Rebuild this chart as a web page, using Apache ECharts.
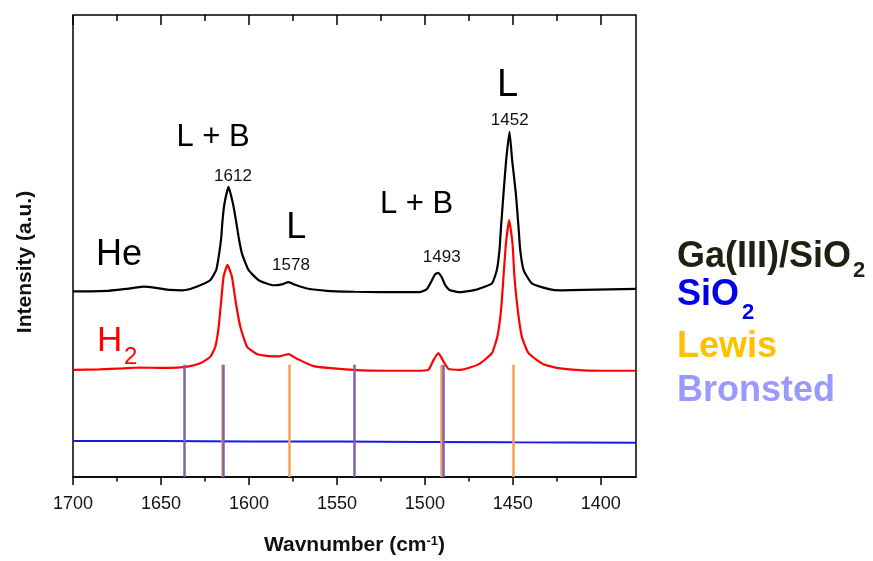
<!DOCTYPE html>
<html>

<head>
  <meta charset="utf-8">
  <title>Pyridine IR spectra</title>
  <script src="https://cdn.jsdelivr.net/npm/echarts@6/dist/echarts.min.js"></script>
  <style>
    html, body {
      margin: 0;
      padding: 0;
      background: #fff;
    }

    #chart {
      width: 873px;
      height: 561px;
    }
  </style>
</head>

<body>
  <div id="chart"></div>
</body>
<script>
  // tick labels of the wavenumber axis
  const majorTicks = [1700, 1650, 1600, 1550, 1500, 1450, 1400]
  const minorTicks = [1675, 1625, 1575, 1525, 1475, 1425]

  // Ga(III)/SiO2 under He (black)
  const heWn = [1700, 1690, 1680, 1670, 1660, 1652, 1645, 1638, 1633.4, 1627.7, 1622.0, 1618.6, 1616.9, 1615.7, 1615.0, 1613.9, 1611.6, 1609.1, 1607.4, 1605.9, 1604.0, 1600.2, 1594.5, 1586.0, 1581.3, 1577.5, 1573.7, 1567.0, 1555.7, 1540, 1525, 1510, 1503, 1499, 1496.5, 1494.3, 1492.5, 1490.5, 1488.5, 1486, 1480, 1474.3, 1470.5, 1461.9, 1459.1, 1457.6, 1456.7, 1455.3, 1453.8, 1451.9, 1450.4, 1448.3, 1446.8, 1445.8, 1443.9, 1439.2, 1428.8, 1423.1, 1410, 1395, 1380]
  const heVal = [40.2, 40.2, 40.3, 40.7, 41.2, 40.9, 40.5, 40.4, 40.7, 41.5, 42.6, 44.8, 48.4, 52.0, 55.6, 59.2, 62.8, 59.2, 55.6, 52.0, 48.4, 44.8, 42.6, 41.5, 41.7, 42.2, 41.6, 40.8, 40.3, 40.1, 40.0, 40.0, 40.0, 40.6, 42.2, 43.8, 44.2, 43.3, 41.6, 40.5, 40.0, 40.3, 40.6, 41.9, 44.8, 49.1, 54.2, 61.4, 68.6, 74.7, 68.6, 61.4, 54.2, 49.1, 44.8, 41.9, 40.6, 40.4, 40.5, 40.6, 40.7]

  // Ga(III)/SiO2 under H2 (red)
  const h2Wn = [1700, 1685, 1672, 1662.7, 1650, 1637.2, 1633.4, 1627.7, 1622.0, 1619.1, 1617.2, 1615.9, 1614.4, 1612.2, 1609.7, 1607.4, 1604.9, 1601.1, 1595.5, 1590, 1583, 1577.5, 1572.7, 1563.3, 1540.6, 1520, 1505, 1498, 1495.1, 1492.3, 1489.4, 1486.6, 1480, 1474.3, 1468.6, 1461.9, 1458.8, 1456.7, 1455.3, 1453.9, 1452.1, 1450.2, 1449.1, 1447.2, 1444.9, 1441.1, 1432.6, 1423.1, 1410, 1395, 1380]
  const h2Val = [23.2, 23.3, 23.5, 23.7, 23.6, 23.8, 24.0, 24.6, 26.0, 28.2, 32.5, 37.6, 43.4, 45.9, 43.4, 37.6, 32.5, 28.2, 26.6, 26.2, 26.1, 26.6, 25.6, 24.0, 23.2, 23.0, 23.0, 23.2, 25.3, 26.8, 25.0, 23.4, 23.2, 23.7, 24.6, 26.8, 30.4, 36.1, 43.4, 50.6, 55.6, 50.6, 43.4, 36.1, 30.4, 26.8, 24.4, 23.5, 23.1, 23.0, 23.0]

  // bare SiO2 (blue)
  const sioWn = [1700, 1650, 1600, 1550, 1500, 1450, 1380]
  const sioVal = [7.8, 7.8, 7.7, 7.7, 7.6, 7.5, 7.4]

  // reference band positions
  const lewisWn = [1615.3, 1577, 1490.5, 1449.8]
  const bronstedWn = [1636.8, 1614.4, 1540, 1489.3]
  const bandTop = 24.3

  const chart = echarts.init(document.getElementById('chart'))

  const pairs = (xs, ys) => xs.map((x, i) => [x, ys[i]])
  const bands = (xs) => xs.map(x => [{ coord: [x, 0] }, { coord: [x, bandTop] }])

  const font = 'Liberation Sans, Arial, sans-serif'
  const txt = (text, x, y, size, opts = {}) => ({
    type: 'text',
    x, y,
    style: Object.assign({
      text,
      fontSize: size,
      fontFamily: font,
      fill: '#000',
      align: 'center',
      verticalAlign: 'middle',
    }, opts),
  })
  const left = { align: 'left' }
  const bold = (fill) => ({ align: 'left', fontWeight: 'bold', fill })

  const baseX = {
    type: 'value',
    min: 1380,
    max: 1700,
    inverse: true,
    splitLine: { show: false },
    axisLine: { show: false, onZero: false },
    axisLabel: { show: false },
  }

  const option = {
    backgroundColor: '#fff',
    animation: false,
    grid: {
      left: 73,
      right: 237,
      top: 15,
      bottom: 84,
      show: true,
      borderColor: '#000',
      borderWidth: 1.5,
      backgroundColor: 'transparent',
    },
    xAxis: [
      Object.assign({}, baseX, {
        position: 'bottom',
        axisLine: { show: true, onZero: false, lineStyle: { color: '#000', width: 1.5 } },
        axisTick: { show: true, length: 8, customValues: majorTicks, lineStyle: { color: '#000', width: 1.5 } },
        axisLabel: {
          show: true, customValues: majorTicks, margin: 18,
          fontSize: 18, fontFamily: font, color: '#111',
          formatter: (v) => String(v),
        },
        name: '{n|Wavnumber (cm}{s|-1}{n|)}',
        nameLocation: 'middle',
        nameGap: 58,
        nameTextStyle: {
          rich: {
            n: { fontSize: 21, fontWeight: 'bold', fontFamily: font, color: '#111' },
            s: { fontSize: 13, fontWeight: 'bold', fontFamily: font, color: '#111', verticalAlign: 'top' },
          },
        },
      }),
      Object.assign({}, baseX, {
        position: 'bottom',
        axisTick: { show: true, length: 4.5, customValues: minorTicks, lineStyle: { color: '#000', width: 1.5 } },
      }),
      Object.assign({}, baseX, {
        position: 'top',
        axisTick: { show: true, inside: true, length: 10, customValues: majorTicks, lineStyle: { color: '#000', width: 1.5 } },
      }),
      Object.assign({}, baseX, {
        position: 'top',
        axisTick: { show: true, inside: true, length: 6, customValues: minorTicks, lineStyle: { color: '#000', width: 1.5 } },
      }),
    ],
    yAxis: {
      type: 'value',
      min: 0,
      max: 100,
      axisLine: { show: false },
      axisTick: { show: false },
      axisLabel: { show: false },
      splitLine: { show: false },
    },
    series: [
      {
        name: 'Lewis',
        type: 'line',
        data: [],
        z: 1,
        markLine: {
          silent: true,
          symbol: 'none',
          label: { show: false },
          lineStyle: { color: '#f4a05a', width: 2.5, type: 'solid' },
          data: bands(lewisWn),
        },
      },
      {
        name: 'Bronsted',
        type: 'line',
        data: [],
        z: 1,
        markLine: {
          silent: true,
          symbol: 'none',
          label: { show: false },
          lineStyle: { color: '#7e62ae', width: 2.5, type: 'solid' },
          data: bands(bronstedWn),
        },
      },
      {
        name: 'SiO2',
        type: 'line',
        data: pairs(sioWn, sioVal),
        showSymbol: false,
        lineStyle: { color: '#1a1ae6', width: 2 },
        z: 3,
      },
      {
        name: 'H2',
        type: 'line',
        data: pairs(h2Wn, h2Val),
        smooth: 0.15,
        showSymbol: false,
        lineStyle: { color: '#ff0000', width: 2.2 },
        z: 3,
      },
      {
        name: 'He',
        type: 'line',
        data: pairs(heWn, heVal),
        smooth: 0.15,
        showSymbol: false,
        lineStyle: { color: '#000', width: 2.2 },
        z: 3,
      },
    ],
    graphic: [
      txt('Intensity (a.u.)', 25, 262, 21, { fontWeight: 'bold', fill: '#111' }),
      txt('L + B', 213, 137, 31),
      txt('1612', 233, 176.5, 17, { fill: '#111' }),
      txt('He', 96, 255, 36, left),
      txt('L', 296.3, 228.3, 36),
      txt('1578', 291, 265.5, 17, { fill: '#111' }),
      txt('L + B', 416.5, 204, 31),
      txt('1493', 441.7, 257.8, 17, { fill: '#111' }),
      txt('L', 507.5, 86, 38),
      txt('1452', 509.7, 120, 17, { fill: '#111' }),
      txt('H', 97, 341.5, 35, { align: 'left', fill: '#ff0000' }),
      txt('2', 124, 357, 24, { align: 'left', fill: '#ff0000' }),
      txt('Ga(III)/SiO', 677, 257, 36, bold('#211f10')),
      txt('2', 853, 271, 22, bold('#211f10')),
      txt('SiO', 677, 295, 36, bold('#0000ee')),
      txt('2', 742, 313, 22, bold('#0000ee')),
      txt('Lewis', 677, 346.7, 36, bold('#ffc000')),
      txt('Bronsted', 677, 390.8, 36, bold('#9999ff')),
    ],
  }
  // rotate the y axis title
  option.graphic[0].rotation = Math.PI / 2

  chart.setOption(option)
</script>

</html>
